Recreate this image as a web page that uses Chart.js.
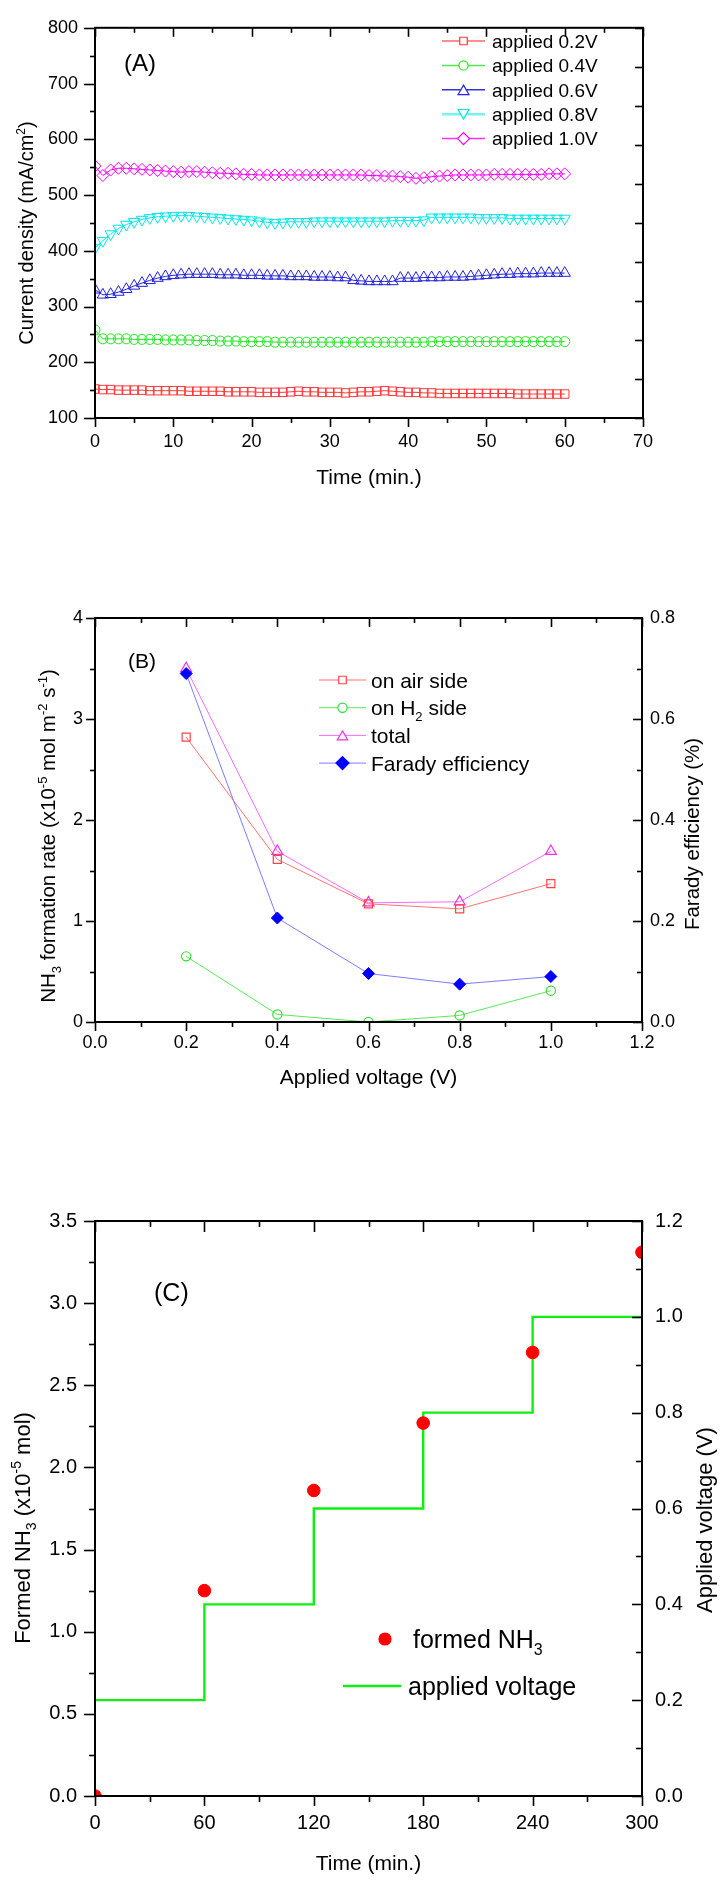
<!DOCTYPE html>
<html>
<head>
<meta charset="utf-8">
<script src="https://cdn.jsdelivr.net/npm/chart.js@4.4.1/dist/chart.umd.min.js"></script>
<style>
  html, body { margin: 0; padding: 0; background: #fff; }
  body { width: 722px; height: 1880px; position: relative; overflow: hidden; }
  canvas { position: absolute; left: 0; }
</style>
</head>
<body>
<canvas id="chartA" width="722" height="500" style="top:0px"></canvas>
<canvas id="chartB" width="722" height="520" style="top:580px"></canvas>
<canvas id="chartC" width="722" height="730" style="top:1150px"></canvas>
<script>
// ---- panel A: current density vs time ----
const timeA = [0,1,2,3,4,5,6,7,8,9,10,11,12,13,14,15,16,17,18,19,20,21,22,23,24,25,26,27,28,29,30,
  31,32,33,34,35,36,37,38,39,40,41,42,43,44,45,46,47,48,49,50,51,52,53,54,55,56,57,58,59,60];
const cur02 = [152,151,151,150,150,150,150,149,149,149,149,149,148,148,148,148,148,147,147,147,147,
  146,146,146,146,147,148,147,147,146,146,146,145,146,147,147,148,149,148,147,146,146,145,145,144,144,
  144,144,144,144,144,144,144,144,143,143,143,143,143,143,143];
const cur04 = [258,242,242,242,242,241,241,241,241,240,240,240,240,239,239,239,238,238,238,237,237,
  237,237,236,236,236,236,236,236,236,236,236,236,236,236,236,236,236,236,236,236,236,236,237,237,237,
  237,237,237,237,237,237,237,237,237,237,237,237,237,237,237];
const cur06 = [330,321,322,326,331,337,342,347,351,354,356,357,358,358,358,358,357,357,357,356,356,
  356,355,355,355,354,354,354,353,353,353,352,352,347,346,345,345,345,345,351,351,351,352,352,352,353,
  353,353,354,355,356,357,358,358,359,359,359,360,360,360,360];
const cur08 = [405,418,430,440,447,452,456,459,461,462,463,463,463,462,461,460,459,458,457,456,455,
  453,451,450,451,452,452,452,453,453,453,453,453,453,453,453,453,453,454,454,454,454,455,460,460,460,
  460,460,460,459,459,459,459,458,458,458,458,458,458,458,458];
const cur10 = [552,535,545,548,548,547,546,545,544,543,542,541,542,542,541,540,539,539,538,537,537,
  536,536,536,536,536,536,536,536,536,536,536,536,536,536,535,535,534,534,533,532,530,531,533,534,535,
  536,536,536,536,536,537,537,537,537,537,537,537,538,538,538];
const labelsA = ['applied 0.2V', 'applied 0.4V', 'applied 0.6V', 'applied 0.8V', 'applied 1.0V'];

// ---- panel B: NH3 formation rate vs applied voltage ----
const voltB = [0.2, 0.4, 0.6, 0.8, 1.0];
const airSide = [2.82, 1.61, 1.17, 1.12, 1.37];
const h2Side = [0.65, 0.075, 0.0, 0.065, 0.31];
const totalRate = [3.5, 1.69, 1.18, 1.19, 1.69];
const faradyEff = [0.69, 0.206, 0.096, 0.075, 0.09];

// ---- panel C: formed NH3 and applied voltage vs time ----
const timeC = [0, 60, 120, 180, 240, 300];
const formedNH3 = [0.0, 1.25, 1.86, 2.27, 2.70, 3.31];
const stepTimes = [0, 60, 120, 180, 240, 300];
const stepVolts = [0.2, 0.4, 0.6, 0.8, 1.0, 1.0];

const FONT = "'Liberation Sans', Arial, sans-serif";
Chart.defaults.font.family = FONT;
Chart.defaults.color = '#000';
Chart.defaults.animation = false;

const pts = (xs, ys) => xs.map((x, i) => ({ x: x, y: ys[i] }));

// text with sub/superscript pieces: segs = [[text, 'sub'|'sup'|undefined], ...]
function richText(ctx, segs, x, y, size, rot, align) {
  ctx.save();
  ctx.translate(x, y);
  if (rot) ctx.rotate(rot);
  ctx.fillStyle = '#000';
  ctx.textBaseline = 'alphabetic';
  const small = Math.round(size * 0.62);
  let w = 0;
  segs.forEach(s => { ctx.font = (s[1] ? small : size) + 'px ' + FONT; w += ctx.measureText(s[0]).width; });
  let cx = align === 'left' ? 0 : -w / 2;
  const base = size * 0.36;
  segs.forEach(s => {
    ctx.font = (s[1] ? small : size) + 'px ' + FONT;
    const dy = s[1] === 'sub' ? size * 0.28 : s[1] === 'sup' ? -size * 0.42 : 0;
    ctx.fillText(s[0], cx, base + dy);
    cx += ctx.measureText(s[0]).width;
  });
  ctx.restore();
}

// box round the plot and Origin-like tick marks (major on ticks, minor half way)
const frameTicks = {
  id: 'frameTicks',
  afterDraw(chart, args, o) {
    const ctx = chart.ctx, a = chart.chartArea;
    ctx.save();
    ctx.strokeStyle = '#000';
    ctx.lineWidth = 2;
    ctx.strokeRect(a.left, a.top, a.right - a.left, a.bottom - a.top);
    ctx.lineWidth = 1.6;
    (o.sides || []).forEach(s => {
      const sc = chart.scales[s.scale];
      const vals = sc.ticks.map(t => t.value);
      const mins = [];
      if (s.minor) for (let i = 0; i < vals.length - 1; i++) mins.push((vals[i] + vals[i + 1]) / 2);
      const tick = (v, len) => {
        const p = Math.round(sc.getPixelForValue(v)) + 0.5;
        ctx.beginPath();
        if (s.side === 'bottom') { ctx.moveTo(p, a.bottom); ctx.lineTo(p, a.bottom + len); }
        if (s.side === 'top') { ctx.moveTo(p, a.top); ctx.lineTo(p, a.top + len); }
        if (s.side === 'left') { ctx.moveTo(a.left, p); ctx.lineTo(a.left - len, p); }
        if (s.side === 'right') { ctx.moveTo(a.right, p); ctx.lineTo(a.right - len, p); }
        ctx.stroke();
      };
      vals.forEach(v => tick(v, s.major));
      mins.forEach(v => tick(v, s.minor));
    });
    ctx.restore();
  }
};

// axis titles and panel letters; x 'mid' = middle of the plot
const textItems = {
  id: 'textItems',
  afterDraw(chart, args, o) {
    const a = chart.chartArea;
    (o.items || []).forEach(t => {
      const x = t.x === 'mid' ? (a.left + a.right) / 2 : t.x;
      richText(chart.ctx, t.segs, x, t.y, t.size, t.rot || 0, t.align);
    });
  }
};

// small symbol for the legend, drawn by hand so the colours are exact
function legendSymbol(ctx, style, r, rot, x, y, stroke, fill) {
  ctx.save();
  ctx.translate(x, y);
  ctx.rotate(rot * Math.PI / 180);
  ctx.beginPath();
  if (style === 'circle') {
    ctx.arc(0, 0, r, 0, Math.PI * 2);
  } else if (style === 'rect') {
    const h = r * Math.SQRT1_2;
    ctx.rect(-h, -h, 2 * h, 2 * h);
  } else if (style === 'rectRot') {
    ctx.moveTo(0, -r); ctx.lineTo(r, 0); ctx.lineTo(0, r); ctx.lineTo(-r, 0);
  } else if (style === 'triangle') {
    for (let k = 0; k < 3; k++) {
      const ang = k * 2 * Math.PI / 3;
      const px = Math.sin(ang) * r, py = -Math.cos(ang) * r + r * 0.25;
      if (k === 0) ctx.moveTo(px, py); else ctx.lineTo(px, py);
    }
  }
  ctx.closePath();
  ctx.fillStyle = fill;
  ctx.fill();
  ctx.strokeStyle = stroke;
  ctx.lineWidth = 1.2;
  ctx.stroke();
  ctx.restore();
}

// legend drawn Origin style: line - symbol - line, then label
const originLegend = {
  id: 'originLegend',
  afterDraw(chart, args, o) {
    const ctx = chart.ctx;
    (o.items || []).forEach((it, i) => {
      const ds = chart.data.datasets[it.ds];
      const y = (it.y !== undefined) ? it.y : o.y + i * o.dy;
      const x0 = it.x0 !== undefined ? it.x0 : o.x0, x1 = it.x1 !== undefined ? it.x1 : o.x1;
      const tx = it.tx !== undefined ? it.tx : o.tx;
      if (it.line !== false) {
        ctx.save();
        ctx.strokeStyle = it.lineColor || ds.borderColor;
        ctx.lineWidth = it.lw || ds.borderWidth || 1;
        ctx.beginPath(); ctx.moveTo(x0, y); ctx.lineTo(x1, y); ctx.stroke();
        ctx.restore();
      }
      if (it.symbol !== false) {
        legendSymbol(ctx, ds.pointStyle, it.r || ds.pointRadius, ds.pointRotation || 0,
          it.mx !== undefined ? it.mx : (x0 + x1) / 2, y, it.stroke, it.fill);
      }
      richText(ctx, it.segs, tx, y, o.size, 0, 'left');
    });
  }
};

Chart.register(frameTicks, textItems, originLegend);

function axis(extra) {
  return Object.assign({
    type: 'linear',
    grid: { display: false, drawTicks: false },
    border: { display: false }
  }, extra);
}

// ================= A =================
const colA = ['#ff3838', '#22e622', '#2222dd', '#00e8e8', '#ff00ff'];
const legLineA = ['#ff6a6a', '#55e055', '#3333dd', '#77f2f2', '#ff33ff'];
const styleA = ['rect', 'circle', 'triangle', 'triangle', 'rectRot'];
const rotA = [0, 0, 0, 180, 0];
const radA = [6, 5, 6.5, 6.5, 6];
const seriesA = [cur02, cur04, cur06, cur08, cur10];

new Chart(document.getElementById('chartA'), {
  type: 'scatter',
  data: {
    datasets: seriesA.map((ys, k) => ({
      label: labelsA[k],
      data: pts(timeA, ys),
      showLine: true,
      borderColor: colA[k],
      borderWidth: 1,
      pointStyle: styleA[k],
      pointRotation: rotA[k],
      pointRadius: radA[k],
      pointBorderWidth: 1,
      pointBorderColor: colA[k],
      pointBackgroundColor: 'rgba(255,255,255,0)'
    }))
  },
  options: {
    responsive: false,
    layout: { padding: { top: 17, right: 79, left: 0, bottom: 0 } },
    plugins: {
      legend: { display: false },
      tooltip: { enabled: false },
      frameTicks: { sides: [
        { scale: 'x', side: 'bottom', major: 9, minor: 5 },
        { scale: 'x', side: 'top', major: 9, minor: 5 },
        { scale: 'y', side: 'left', major: 11, minor: 5 },
        { scale: 'y2', side: 'right', major: 8 }
      ] },
      textItems: { items: [
        { segs: [['Current density (mA/cm'], ['2', 'sup'], [')']], x: 26, y: 233, size: 20, rot: -Math.PI / 2 },
        { segs: [['Time (min.)']], x: 'mid', y: 476, size: 21 },
        { segs: [['(A)']], x: 124, y: 62, size: 24, align: 'left' }
      ] },
      originLegend: {
        x0: 442, x1: 485, tx: 492, y: 41, dy: 24.4, size: 19,
        items: labelsA.map((l, k) => ({ ds: k, segs: [[l]], fill: '#fff', stroke: colA[k],
          r: [5.3, 4.6, 6.3, 6.3, 6][k], lineColor: legLineA[k], lw: k === 3 ? 2.5 : 1.5 }))
      }
    },
    scales: {
      x: axis({ min: 0, max: 70, ticks: { stepSize: 10, padding: 13, font: { size: 18 } },
        afterFit: s => { s.height = 82; } }),
      y: axis({ min: 100, max: 800, ticks: { stepSize: 100, padding: 17, font: { size: 18 } },
        afterFit: s => { s.width = 95; } }),
      y2: axis({ position: 'right', min: 0, max: 10, ticks: { stepSize: 1, display: false },
        afterFit: s => { s.width = 0; } })
    }
  }
});

// ================= B =================
new Chart(document.getElementById('chartB'), {
  type: 'scatter',
  data: {
    datasets: [
      { label: 'on air side', data: pts(voltB, airSide), showLine: true, borderColor: 'rgba(255,90,90,0.85)',
        borderWidth: 1, pointStyle: 'rect', pointRadius: 5.7, pointBorderWidth: 1.2,
        pointBorderColor: '#ff4444', pointBackgroundColor: 'rgba(255,255,255,0)', yAxisID: 'y' },
      { label: 'on H2 side', data: pts(voltB, h2Side), showLine: true, borderColor: 'rgba(60,230,60,0.85)',
        borderWidth: 1, pointStyle: 'circle', pointRadius: 4.6, pointBorderWidth: 1.2,
        pointBorderColor: '#33dd33', pointBackgroundColor: 'rgba(255,255,255,0)', yAxisID: 'y' },
      { label: 'total', data: pts(voltB, totalRate), showLine: true, borderColor: 'rgba(255,80,255,0.85)',
        borderWidth: 1, pointStyle: 'triangle', pointRadius: 6.3, pointBorderWidth: 1.2,
        pointBorderColor: '#ee33ee', pointBackgroundColor: 'rgba(255,255,255,0)', yAxisID: 'y' },
      { label: 'Farady efficiency', data: pts(voltB, faradyEff), showLine: true, borderColor: 'rgba(110,110,255,0.9)',
        borderWidth: 1, pointStyle: 'rectRot', pointRadius: 6, pointBorderWidth: 1,
        pointBorderColor: '#0000ff', pointBackgroundColor: '#0000ff', yAxisID: 'y1', order: -1 }
    ]
  },
  options: {
    responsive: false,
    layout: { padding: { top: 38, right: 20, left: 0, bottom: 0 } },
    plugins: {
      legend: { display: false },
      tooltip: { enabled: false },
      frameTicks: { sides: [
        { scale: 'x', side: 'bottom', major: 9, minor: 5 },
        { scale: 'x', side: 'top', major: 9, minor: 5 },
        { scale: 'y', side: 'left', major: 9, minor: 5 },
        { scale: 'y1', side: 'right', major: 9, minor: 5 }
      ] },
      textItems: { items: [
        { segs: [['NH'], ['3', 'sub'], [' formation rate (x10'], ['-5', 'sup'], [' mol m'], ['-2', 'sup'], [' s'], ['-1', 'sup'], [')']],
          x: 48, y: 256, size: 20.5, rot: -Math.PI / 2 },
        { segs: [['Farady efficiency (%)']], x: 692, y: 254, size: 20.5, rot: -Math.PI / 2 },
        { segs: [['Applied voltage (V)']], x: 'mid', y: 496, size: 21 },
        { segs: [['(B)']], x: 128, y: 80, size: 21, align: 'left' }
      ] },
      originLegend: {
        x0: 319, x1: 366, tx: 371, y: 100, dy: 27.7, size: 21,
        items: [
          { ds: 0, segs: [['on air side']], fill: '#fff', stroke: '#ff4444', r: 5.3 },
          { ds: 1, segs: [['on H'], ['2', 'sub'], [' side']], fill: '#fff', stroke: '#33dd33', r: 4.6 },
          { ds: 2, segs: [['total']], fill: '#fff', stroke: '#ee33ee', r: 6 },
          { ds: 3, segs: [['Farady efficiency']], fill: '#0000ff', stroke: '#0000ff', r: 6.5 }
        ]
      }
    },
    scales: {
      x: axis({ min: 0, max: 1.2, ticks: { stepSize: 0.2, padding: 10, font: { size: 18 },
        callback: v => v.toFixed(1) }, afterFit: s => { s.height = 78; } }),
      y: axis({ min: 0, max: 4, ticks: { stepSize: 1, padding: 12, font: { size: 18 } },
        afterFit: s => { s.width = 95; } }),
      y1: axis({ position: 'right', min: 0, max: 0.8, ticks: { stepSize: 0.2, padding: 8, font: { size: 18 },
        callback: v => v.toFixed(1) }, afterFit: s => { s.width = 60; } })
    }
  }
});

// ================= C =================
new Chart(document.getElementById('chartC'), {
  type: 'scatter',
  data: {
    datasets: [
      { label: 'formed NH3', data: pts(timeC, formedNH3), showLine: false, borderWidth: 0,
        pointStyle: 'circle', pointRadius: 6.3, pointBorderWidth: 1, pointBorderColor: '#ff0000',
        pointBackgroundColor: '#ff0000', yAxisID: 'y', order: -1 },
      { label: 'applied voltage', data: pts(stepTimes, stepVolts), showLine: true, stepped: true,
        borderColor: '#11ee11', borderWidth: 2.4, pointRadius: 0, yAxisID: 'y1' }
    ]
  },
  options: {
    responsive: false,
    layout: { padding: { top: 71, right: 20, left: 0, bottom: 0 } },
    plugins: {
      legend: { display: false },
      tooltip: { enabled: false },
      frameTicks: { sides: [
        { scale: 'x', side: 'bottom', major: 10, minor: 6 },
        { scale: 'x', side: 'top', major: 11, minor: 6 },
        { scale: 'y', side: 'left', major: 11, minor: 6 },
        { scale: 'y1', side: 'right', major: 10, minor: 6 }
      ] },
      textItems: { items: [
        { segs: [['Formed NH'], ['3', 'sub'], [' (x10'], ['-5', 'sup'], [' mol)']], x: 22, y: 378, size: 22, rot: -Math.PI / 2 },
        { segs: [['Applied voltage (V)']], x: 704, y: 370, size: 22, rot: -Math.PI / 2 },
        { segs: [['Time (min.)']], x: 'mid', y: 712, size: 21 },
        { segs: [['(C)']], x: 154, y: 142, size: 25, align: 'left' }
      ] },
      originLegend: {
        size: 25,
        items: [
          { ds: 0, segs: [['formed NH'], ['3', 'sub']], line: false, mx: 385, tx: 413, y: 489, r: 6,
            fill: '#ff0000', stroke: '#ff0000' },
          { ds: 1, segs: [['applied voltage']], symbol: false, x0: 343, x1: 401, tx: 408, y: 536 }
        ]
      }
    },
    scales: {
      x: axis({ min: 0, max: 300, ticks: { stepSize: 60, padding: 15, font: { size: 20 } },
        afterFit: s => { s.height = 84; } }),
      y: axis({ min: 0, max: 3.5, ticks: { stepSize: 0.5, padding: 18, font: { size: 20 },
        callback: v => v.toFixed(1) }, afterFit: s => { s.width = 95; } }),
      y1: axis({ position: 'right', min: 0, max: 1.2, ticks: { stepSize: 0.2, padding: 13, font: { size: 20 },
        callback: v => v.toFixed(1) }, afterFit: s => { s.width = 60; } })
    }
  }
});
</script>
</body>
</html>
